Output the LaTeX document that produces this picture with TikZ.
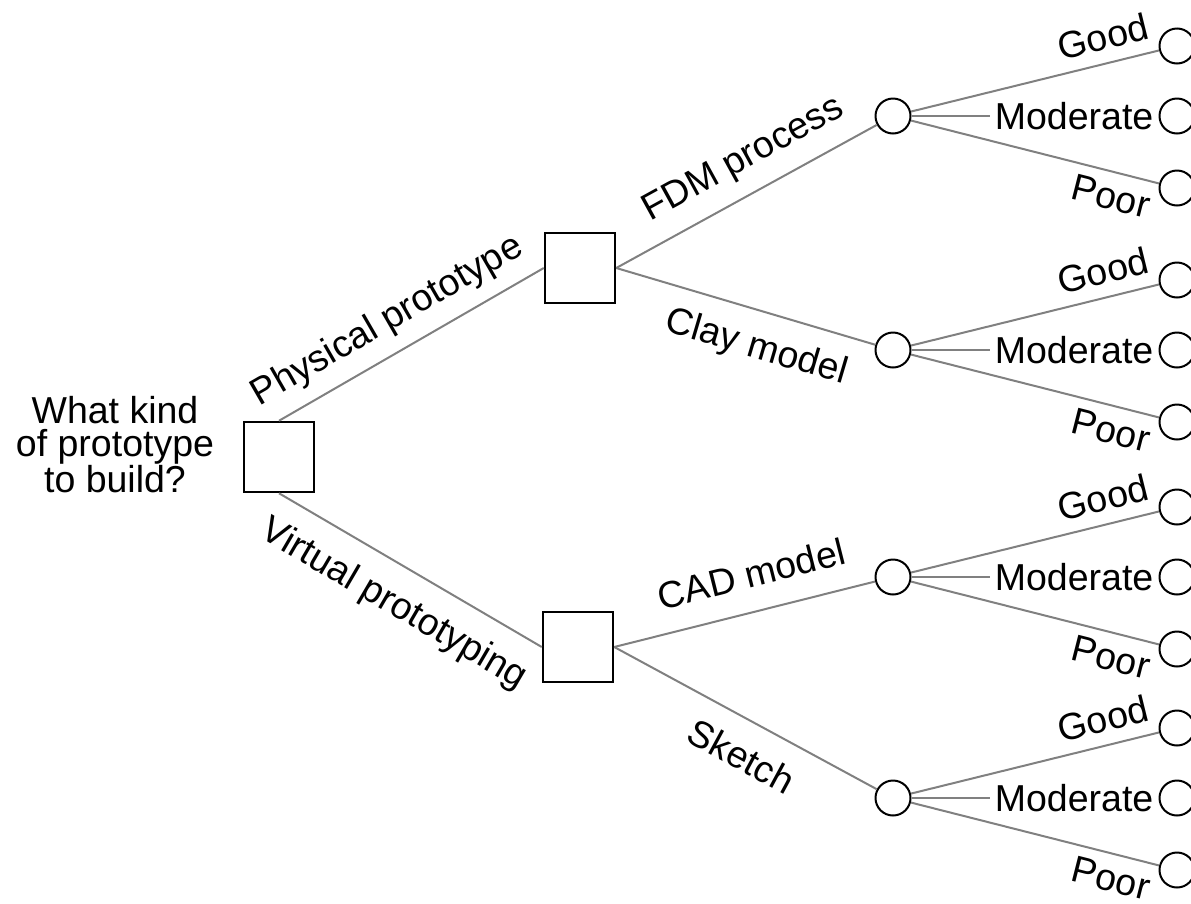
\documentclass[tikz,border=0pt]{standalone}
\usepackage{fontspec}
\setmainfont{Liberation Sans}
\begin{document}
\begin{tikzpicture}[x=1pt,y=-1pt,
  txt/.style={font=\fontsize{37.5}{33}\selectfont, inner sep=3pt},
  uplbl/.style={txt, sloped, text depth=0pt, above=#1},
  downlbl/.style={txt, sloped, text height=27pt, below=#1},
  decision/.style={draw=black, line width=2.5pt, minimum size=70pt, inner sep=0pt, fill=white},
  chance/.style={draw=black, line width=2pt, circle, minimum size=35pt, inner sep=0pt, fill=white},
  branch/.style={draw=black!50, line width=2pt},
  midtxt/.style={txt, inner xsep=5pt}
]
\useasboundingbox (0,0) rectangle (1191,903);
\clip (0,0) rectangle (1191,903);

% decision squares
\node[decision] (root) at (279,457) {};
\node[decision] (phys) at (580,268) {};
\node[decision] (virt) at (578,647) {};
\node[txt, align=center] (question) at (115,445) {What kind\\of prototype\\to build?};

% chance circles
\node[chance] (fdm)  at (893,116) {};
\node[chance] (clay) at (893,350) {};
\node[chance] (cad)  at (893,577) {};
\node[chance] (sk)   at (893,798) {};

% first-level branches
\draw[branch] (root.north) -- node[uplbl=18pt, pos=0.47] {Physical prototype} (phys.west);
\draw[branch] (root.south) -- node[downlbl=17pt, pos=0.51] {Virtual prototyping} (virt.west);

% second-level branches
\draw[branch] (phys.east) -- node[uplbl=20pt, pos=0.55] {FDM process} (fdm);
\draw[branch] (phys.east) -- node[downlbl=16pt, pos=0.58] {Clay model} (clay);
\draw[branch] (virt.east) -- node[uplbl=20pt, pos=0.56] {CAD model} (cad);
\draw[branch] (virt.east) -- node[downlbl=18pt, pos=0.55] {Sketch} (sk);

% outcomes of each chance node
\foreach \c/\y in {fdm/116, clay/350, cad/577, sk/798} {
  \node[chance] (\c-g) at (1177,\y-70) {};
  \node[chance] (\c-m) at (1177,\y) {};
  \node[chance] (\c-p) at (1177,\y+72) {};
  \node[midtxt, anchor=east] (\c-mt) at (\c-m.west) {Moderate};
  \draw[branch] (\c) -- node[uplbl=10pt, pos=0.8] {Good} (\c-g);
  \draw[branch] (\c.east) -- (\c-mt.west);
  \draw[branch] (\c) -- node[downlbl=6pt, pos=0.83] {Poor} (\c-p);
}
\end{tikzpicture}
\end{document}
